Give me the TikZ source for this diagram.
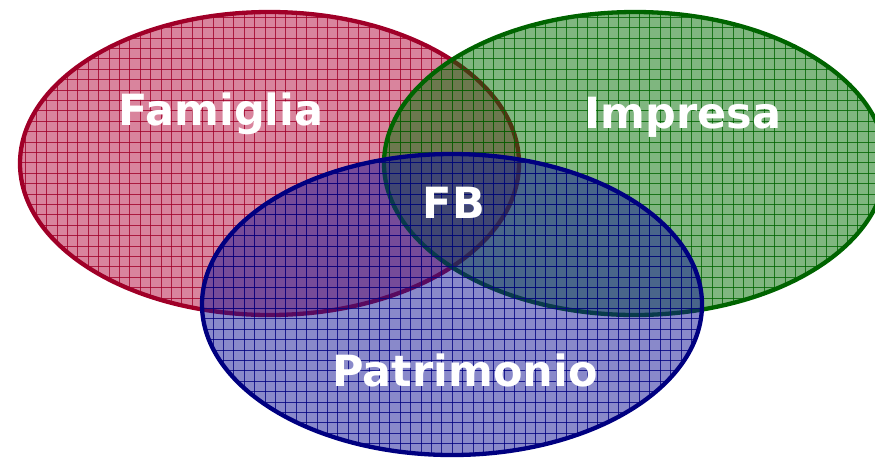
\documentclass[tikz,border=0pt]{standalone}
\usepackage{fontspec}
\setmainfont{DejaVu Sans}
\definecolor{famline}{RGB}{160,0,40}
\definecolor{famfill}{RGB}{180,10,60}
\definecolor{impline}{RGB}{0,100,0}
\definecolor{impfill}{RGB}{0,110,0}
\definecolor{patline}{RGB}{0,0,128}
\definecolor{patfill}{RGB}{20,20,150}
% one set: centre, radii, fill colour, line colour
\newcommand{\vennset}[5]{%
  \fill[#4, fill opacity=0.5] (#1) ellipse [x radius=#2, y radius=#3];
  \begin{scope}
    \clip (#1) ellipse [x radius=#2, y radius=#3];
    \foreach \gx in {5,15.4,...,880} \draw[#5, line width=0.7pt, opacity=0.8] (\gx,0) -- (\gx,459);
    \foreach \gy in {6.8,17.2,...,460} \draw[#5, line width=0.7pt, opacity=0.8] (0,\gy) -- (875,\gy);
  \end{scope}
  \draw[rim, #5] (#1) ellipse [x radius=#2, y radius=#3];
}
\begin{document}
\begin{tikzpicture}[x=1pt, y=-1pt,
    rim/.style={line width=4.3pt},
    lbl/.style={text=white, font=\bfseries\fontsize{43}{43}\selectfont, anchor=base}]
  \useasboundingbox (0,0) rectangle (875,459);
  \clip (0,0) rectangle (875,459);
  \vennset{269.5,163.5}{249.5}{151.5}{famfill}{famline}
  \vennset{635,163.5}{251}{151.5}{impfill}{impline}
  \vennset{452,304.5}{250}{150.5}{patfill}{patline}
  \node[lbl] (famiglia) at (221,125) {Famiglia};
  \node[lbl] (impresa) at (683,128) {Impresa};
  \node[lbl] (fb) at (454,218) {FB};
  \node[lbl] (patrimonio) at (465,386) {Patrimonio};
\end{tikzpicture}
\end{document}
